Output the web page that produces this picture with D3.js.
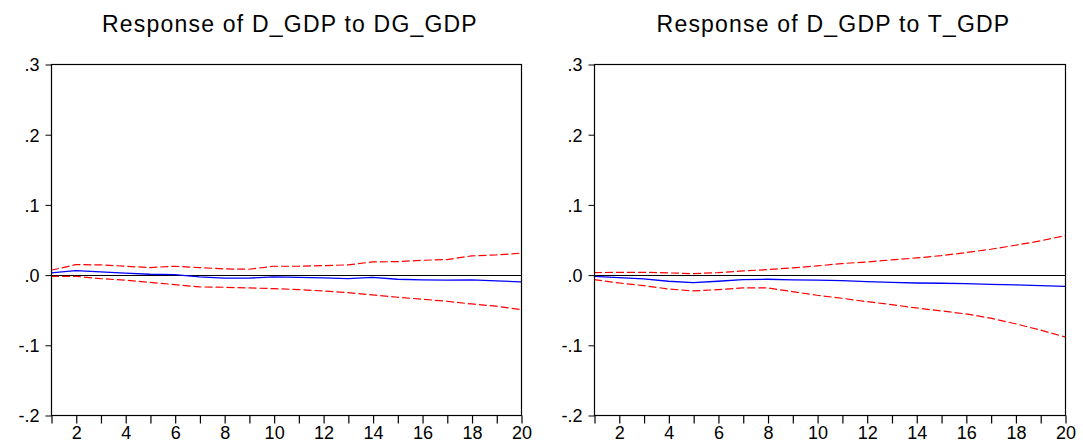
<!DOCTYPE html>
<html><head><meta charset="utf-8">
<script src="https://cdn.jsdelivr.net/npm/d3@7"></script>
<style>
html,body{margin:0;padding:0;background:#fff;}
svg{display:block;font-family:Arial,"Liberation Sans",sans-serif;}
</style></head>
<body>
<svg id="chart" width="1083" height="445"></svg>
<script>
const periods = d3.range(1, 21);
const yTicks = [0.3, 0.2, 0.1, 0.0, -0.1, -0.2];
const yTickLabels = [".3", ".2", ".1", ".0", "-.1", "-.2"];
const xTickLabels = periods.filter(p => p % 2 === 0);

const titles = ["Response of D_GDP to DG_GDP", "Response of D_GDP to T_GDP"];

// Panel 1: D_GDP to DG_GDP
const resp1 = [0.0024,0.0057,0.0038,0.0020,0.0005,0.0000,-0.0033,-0.0050,-0.0050,-0.0033,
               -0.0040,-0.0047,-0.0057,-0.0040,-0.0066,-0.0076,-0.0080,-0.0076,-0.0090,-0.0104];
const upper1 = [0.0062,0.0142,0.0138,0.0119,0.0100,0.0119,0.0100,0.0081,0.0076,0.0119,
                0.0119,0.0128,0.0138,0.0180,0.0185,0.0204,0.0214,0.0266,0.0280,0.0306];
const lower1 = [-0.0024,-0.0024,-0.0057,-0.0080,-0.0110,-0.0142,-0.0176,-0.0180,-0.0190,-0.0200,
                -0.0214,-0.0233,-0.0256,-0.0290,-0.0323,-0.0350,-0.0380,-0.0418,-0.0450,-0.0499];

// Panel 2: D_GDP to T_GDP
const resp2 = [-0.0024,-0.0043,-0.0062,-0.0095,-0.0114,-0.0095,-0.0071,-0.0066,-0.0076,-0.0080,
               -0.0085,-0.0100,-0.0110,-0.0120,-0.0123,-0.0128,-0.0138,-0.0147,-0.0157,-0.0168];
const upper2 = [0.0028,0.0033,0.0033,0.0024,0.0014,0.0028,0.0052,0.0071,0.0095,0.0123,
                0.0157,0.0180,0.0209,0.0237,0.0270,0.0313,0.0361,0.0418,0.0480,0.0555];
const lower2 = [-0.0071,-0.0119,-0.0157,-0.0204,-0.0233,-0.0214,-0.0190,-0.0190,-0.0242,-0.0294,
                -0.0337,-0.0385,-0.0427,-0.0475,-0.0517,-0.0560,-0.0620,-0.0700,-0.0790,-0.0888];

const panels = [
  {title: titles[0], resp: resp1, upper: upper1, lower: lower1, x0: 51, x1: 521},
  {title: titles[1], resp: resp2, upper: upper2, lower: lower2, x0: 594, x1: 1065}
];

const svg = d3.select("#chart");
const yTop = 64, yBot = 415;

panels.forEach(p => {
  const x = d3.scaleLinear().domain([1, 20]).range([p.x0, p.x1]);
  const y = d3.scaleLinear().domain([-0.2, 0.3]).range([yBot, yTop]);
  const g = svg.append("g");

  // title
  g.append("text")
    .attr("x", (p.x0 + p.x1) / 2 + 4)
    .attr("y", 32)
    .attr("text-anchor", "middle")
    .attr("font-size", 23)
    .attr("letter-spacing", 1.2)
    .attr("fill", "#000")
    .text(p.title);

  // zero line
  g.append("line")
    .attr("x1", p.x0).attr("x2", p.x1)
    .attr("y1", Math.round(y(0)) + 0.5).attr("y2", Math.round(y(0)) + 0.5)
    .attr("stroke", "#000").attr("stroke-width", 1);

  const line = d3.line().x((d, i) => x(periods[i])).y(d => y(d));

  g.append("path").datum(p.upper).attr("d", line)
    .attr("fill", "none").attr("stroke", "#ff0000").attr("stroke-width", 1.2)
    .attr("stroke-dasharray", "8,3");
  g.append("path").datum(p.lower).attr("d", line)
    .attr("fill", "none").attr("stroke", "#ff0000").attr("stroke-width", 1.2)
    .attr("stroke-dasharray", "8,3");
  g.append("path").datum(p.resp).attr("d", line)
    .attr("fill", "none").attr("stroke", "#0000ff").attr("stroke-width", 1.3);

  // box
  g.append("rect")
    .attr("x", p.x0 + 0.5).attr("y", yTop + 0.5)
    .attr("width", p.x1 - p.x0).attr("height", yBot - yTop)
    .attr("fill", "none").attr("stroke", "#000").attr("stroke-width", 1.2);

  // y axis
  const yAxis = d3.axisLeft(y).tickValues(yTicks).tickSize(6).tickPadding(6)
    .tickFormat((d, i) => yTickLabels[i]);
  const ya = g.append("g").attr("transform", `translate(${p.x0 + 0.5},0.5)`).call(yAxis);
  ya.select(".domain").remove();
  ya.selectAll("text").attr("font-size", 18).attr("font-family", "Arial,'Liberation Sans',sans-serif")
    .attr("fill", "#000").attr("dy", "0.36em");
  ya.selectAll("line").attr("stroke", "#000");

  // x axis
  const xAxis = d3.axisBottom(x).tickValues(periods).tickSize(8).tickPadding(3)
    .tickFormat(d => xTickLabels.includes(d) ? String(d) : "");
  const xa = g.append("g").attr("transform", `translate(0.5,${yBot + 0.5})`).call(xAxis);
  xa.select(".domain").remove();
  xa.selectAll("text").attr("font-size", 18).attr("font-family", "Arial,'Liberation Sans',sans-serif")
    .attr("fill", "#000");
  xa.selectAll("line").attr("stroke", "#000").attr("stroke-width", 1.2);
});
</script>
</body></html>
